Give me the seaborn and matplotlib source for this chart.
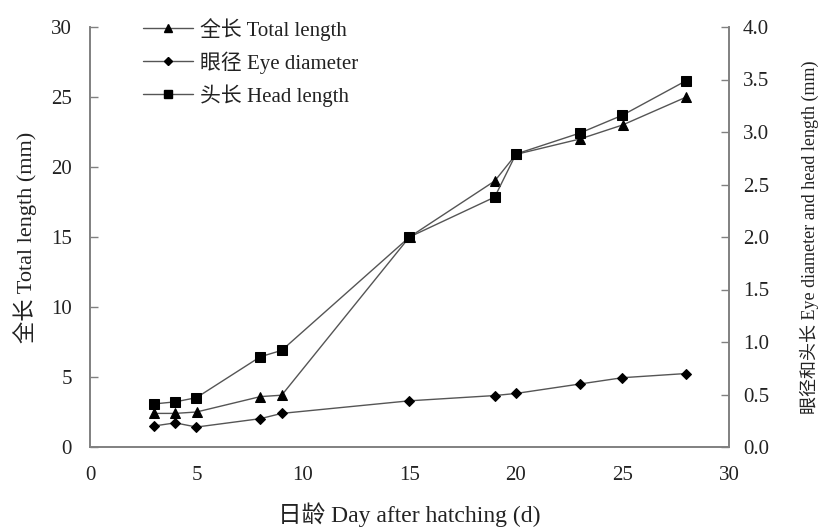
import matplotlib
matplotlib.use("Agg")
import matplotlib.pyplot as plt
import seaborn as sns
import numpy as np
from matplotlib.lines import Line2D

days = [3, 4, 5, 8, 9, 15, 19, 20, 23, 25, 28]
total_length = [2.4, 2.4, 2.5, 3.6, 3.7, 15.0, 19.0, 20.9, 22.0, 23.0, 25.0]
eye_diameter = [0.20, 0.23, 0.19, 0.27, 0.32, 0.44, 0.49, 0.51, 0.60, 0.66, 0.70]
head_length = [0.41, 0.43, 0.47, 0.86, 0.92, 2.00, 2.38, 2.79, 2.99, 3.16, 3.49]

labels = ["全长 Total length", "眼径 Eye diameter", "头长 Head length"]
xticks = [0, 5, 10, 15, 20, 25, 30]
yticks_left = [0, 5, 10, 15, 20, 25, 30]
yticks_right = [0.0, 0.5, 1.0, 1.5, 2.0, 2.5, 3.0, 3.5, 4.0]

sns.set_theme(style="white")
fam = ["Liberation Serif", "Noto Sans CJK SC"]
plt.rcParams["font.family"] = fam
plt.rcParams["axes.unicode_minus"] = False

fig = plt.figure(figsize=(8.23, 5.32), dpi=100)
ax = fig.add_axes([90/823, (532-447)/532, (729-90)/823, (447-27)/532])
ax2 = ax.twinx()

lc = "#555555"
lw = 1.0
sns.lineplot(x=days, y=total_length, ax=ax, color=lc, lw=lw, marker="^",
             markersize=6.5, markerfacecolor="black", markeredgecolor="black", legend=False)
sns.lineplot(x=days, y=eye_diameter, ax=ax2, color=lc, lw=lw, marker="D",
             markersize=5.3, markerfacecolor="black", markeredgecolor="black", legend=False)
sns.lineplot(x=days, y=head_length, ax=ax2, color=lc, lw=lw, marker="s",
             markersize=6.5, markerfacecolor="black", markeredgecolor="black", legend=False)

ax.set_xlim(0, 30)
ax.set_ylim(0, 30)
ax2.set_ylim(0, 4.0)
ax.set_xticks(xticks)
ax.set_yticks(yticks_left)
ax2.set_yticks(yticks_right)
ax2.set_yticklabels([f"{v:.1f}" for v in yticks_right])

fs = 15
tc = "#222222"
for a in (ax, ax2):
    for s in a.spines.values():
        s.set_color("#808080")
        s.set_linewidth(1.2)
    a.spines["top"].set_visible(False)
    a.tick_params(direction="in", length=6, width=1, color="#808080",
                  labelsize=fs, labelcolor=tc)
    a.grid(False)
ax.tick_params(axis="x", pad=14)
ax.tick_params(axis="y", pad=13)
ax2.tick_params(axis="y", pad=10)

ax.set_xlabel("日龄 Day after hatching (d)", fontsize=17, family=fam, labelpad=12, color=tc)
ax.set_ylabel("全长 Total length (mm)", fontsize=16, family=fam, labelpad=10, color=tc)
ax2.set_ylabel("眼径和头长 Eye diameter and head length (mm)", fontsize=13, family=fam,
               labelpad=22, rotation=90, color=tc)

handles = [
    Line2D([], [], color=lc, lw=lw, marker="^", markersize=6, markerfacecolor="black", markeredgecolor="black"),
    Line2D([], [], color=lc, lw=lw, marker="D", markersize=4.5, markerfacecolor="black", markeredgecolor="black"),
    Line2D([], [], color=lc, lw=lw, marker="s", markersize=6, markerfacecolor="black", markeredgecolor="black"),
]
leg = ax.legend(handles, labels, loc="upper left", bbox_to_anchor=(0.083, 1.022),
                frameon=False, handlelength=2.4, handletextpad=0.35,
                labelspacing=0.5, borderaxespad=0, borderpad=0,
                prop={"family": fam, "size": 15})
for t in leg.get_texts():
    t.set_color(tc)

fig.savefig("out.png", dpi=100)
